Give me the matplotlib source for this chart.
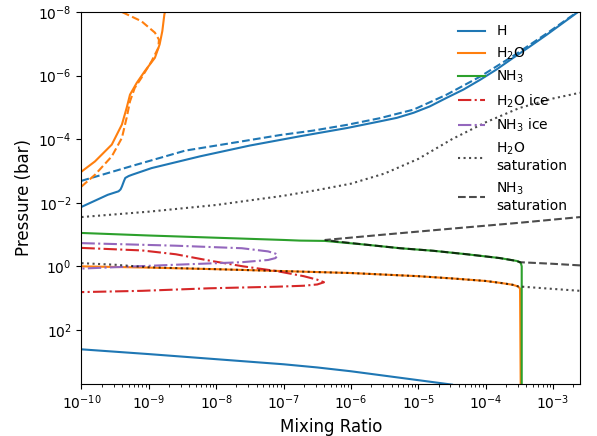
import numpy as np
import matplotlib
matplotlib.use('Agg')
import matplotlib.pyplot as plt
from matplotlib.ticker import FixedLocator, NullLocator

# all values are log10(mixing ratio), log10(pressure / bar)
h_x = [-10, -9.61, -9.45, -9.42, -9.40, -9.37, -9.35, -9.30, -9.25, -8.96, -8.24, -7.50,
       -6.76, -6.06, -5.57, -5.32, -5.07, -4.83, -4.58, -4.33, -4.08, -3.84, -3.59, -3.34,
       -3.09, -2.85, -2.63,
       np.nan,
       -10, -9, -8, -7, -6.5, -6, -5.5, -5, -4.5]
h_p = [-1.87, -2.25, -2.36, -2.42, -2.51, -2.68, -2.78, -2.84, -2.88, -3.09, -3.46, -3.80,
       -4.09, -4.35, -4.56, -4.67, -4.83, -5.03, -5.30, -5.56, -5.87, -6.19, -6.56, -6.92,
       -7.29, -7.66, -8.0,
       np.nan,
       2.61, 2.76, 2.92, 3.08, 3.18, 3.30, 3.44, 3.58, 3.72]

h_alt_x = [-10, -9.23, -8.46, -7.65, -7.05, -6.56, -6.06, -5.57, -5.07, -4.58, -4.08,
           -3.59, -3.09, -2.64]
h_alt_p = [-2.69, -3.17, -3.64, -3.92, -4.13, -4.27, -4.45, -4.66, -4.93, -5.40, -5.97,
           -6.62, -7.33, -8.0]

h2o_x = [-10, -9.80, -9.55, -9.40, -9.33, -9.28, -9.18, -9.06, -8.91, -8.84, -8.80, -8.77,
         -8.76,
         np.nan,
         -10, -9, -8, -7, -6, -5, -4.5, -4, -3.75, -3.6, -3.52, -3.49, -3.48]
h2o_p = [-2.98, -3.30, -3.83, -4.46, -4.98, -5.40, -5.77, -6.14, -6.56, -6.98, -7.40, -7.92,
         -8.0,
         np.nan,
         0.0, 0.04, 0.09, 0.15, 0.21, 0.31, 0.38, 0.46, 0.53, 0.58, 0.63, 0.70, 3.8]

h2o_alt_x = [-10, -9.80, -9.55, -9.40, -9.33, -9.28, -9.21, -9.11, -8.96, -8.86, -8.85,
             -8.91, -9.11, -9.40]
h2o_alt_p = [-2.51, -2.88, -3.46, -4.04, -4.67, -5.19, -5.61, -5.93, -6.45, -6.87, -7.13,
             -7.35, -7.71, -8.0]

nh3_x = [-10, -9, -8, -7, -6.76, -6.39, -5.77, -5.27, -4.78, -4.28, -3.79, -3.54, -3.49,
         -3.475, -3.465, -3.465]
nh3_p = [-1.05, -0.97, -0.90, -0.83, -0.81, -0.80, -0.68, -0.57, -0.49, -0.38, -0.26,
         -0.17, -0.13, -0.08, 0.0, 3.8]

h2o_ice_x = [-10, -9.1, -8.6, -8.1, -7.6, -7.1, -6.7, -6.5, -6.4, -6.5, -6.7, -7.1, -8.1,
             -9.1, -10]
h2o_ice_p = [-0.58, -0.50, -0.38, -0.18, 0.0, 0.15, 0.31, 0.42, 0.50, 0.57, 0.61, 0.64,
             0.69, 0.77, 0.81]

nh3_ice_x = [-10, -8.61, -7.62, -7.23, -7.12, -7.09, -7.12, -7.23, -7.62, -8.61, -10]
nh3_ice_p = [-0.73, -0.65, -0.57, -0.47, -0.40, -0.34, -0.26, -0.20, -0.13, -0.05, 0.07]

h2o_sat_x = [-10, -9, -8, -7, -6.5, -6, -5.5, -5, -4.5, -4, -3.5, -3, -2.6,
             np.nan,
             -10, -9.5, -9, -8, -7, -6, -5, -4.5, -4, -3.75, -3.6, -3.52, -3, -2.6]
h2o_sat_p = [-1.55, -1.72, -1.93, -2.22, -2.40, -2.60, -2.92, -3.38, -4.00, -4.53, -4.98,
             -5.28, -5.46,
             np.nan,
             -0.10, -0.05, 0.03, 0.09, 0.15, 0.21, 0.31, 0.38, 0.46, 0.53, 0.58, 0.63, 0.71,
             0.77]

nh3_sat_x = [-2.6, -3.0, -3.49, -3.54, -3.79, -4.28, -4.78, -5.27, -5.77, -6.2, -6.38,
             -5.5, -4.43, -3.5, -2.6]
nh3_sat_p = [-0.03, -0.08, -0.13, -0.17, -0.26, -0.38, -0.49, -0.57, -0.68, -0.78, -0.83,
             -1.0, -1.20, -1.37, -1.55]


def un_log(v):
    return 10.0 ** np.array(v, dtype=float)


fig = plt.figure(figsize=(5.97, 4.36), dpi=100)
ax = fig.add_axes([0.1365, 0.1193, 0.835, 0.8532])

ax.plot(un_log(h_x), un_log(h_p), color='C0', label='H')
ax.plot(un_log(h2o_x), un_log(h2o_p), color='C1', label='H$_2$O')
ax.plot(un_log(nh3_x), un_log(nh3_p), color='C2', label='NH$_3$')
ax.plot(un_log(h2o_ice_x), un_log(h2o_ice_p), '-.', color='C3', label='H$_2$O ice')
ax.plot(un_log(nh3_ice_x), un_log(nh3_ice_p), '-.', color='C4', label='NH$_3$ ice')
ax.plot(un_log(h_alt_x), un_log(h_alt_p), '--', color='C0')
ax.plot(un_log(h2o_alt_x), un_log(h2o_alt_p), '--', color='C1')
ax.plot(un_log(h2o_sat_x), un_log(h2o_sat_p), ':', color='k', alpha=0.7,
        label='H$_2$O\nsaturation')
ax.plot(un_log(nh3_sat_x), un_log(nh3_sat_p), '--', color='k', alpha=0.7,
        label='NH$_3$\nsaturation')

ax.set_xscale('log')
ax.set_yscale('log')
ax.set_xlim(1e-10, 10 ** -2.6)
ax.set_ylim(10 ** 3.7, 1e-8)
ax.yaxis.set_major_locator(FixedLocator([1e-8, 1e-6, 1e-4, 1e-2, 1e0, 1e2]))
ax.yaxis.set_minor_locator(NullLocator())

ax.set_xlabel('Mixing Ratio', fontsize=12)
ax.set_ylabel('Pressure (bar)', fontsize=12)
ax.legend(loc='upper right', frameon=False)

fig.savefig('out.png', dpi=100)
